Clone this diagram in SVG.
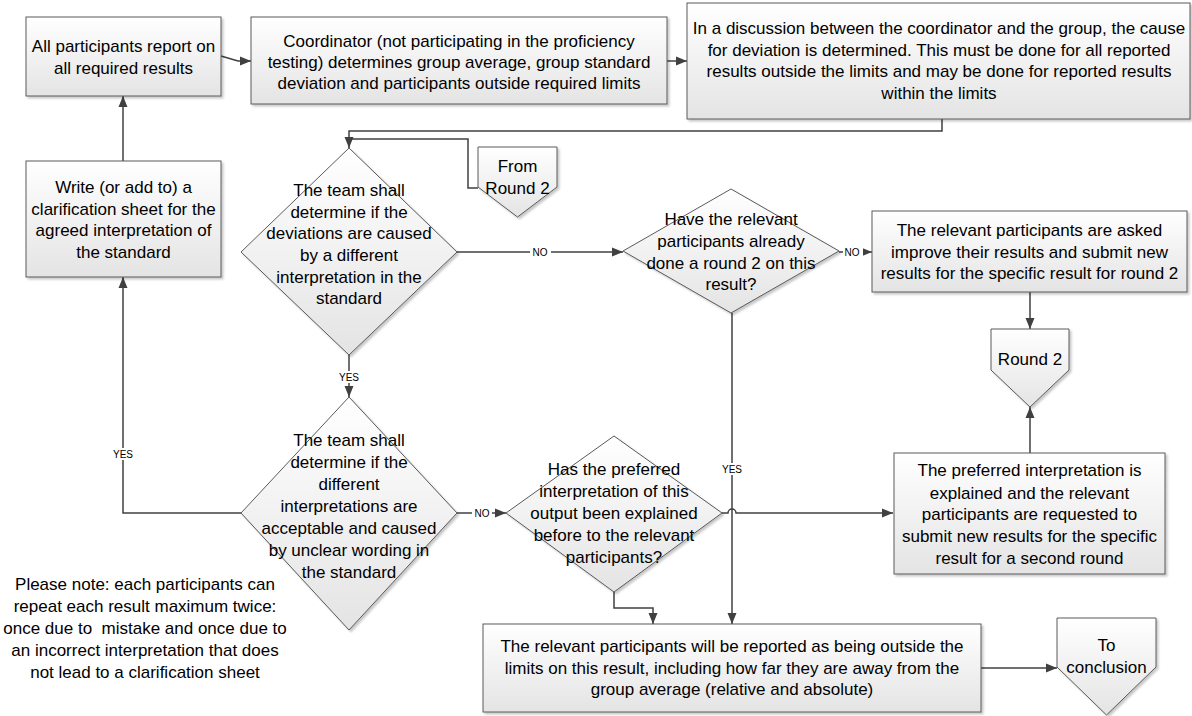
<svg xmlns="http://www.w3.org/2000/svg" width="1192" height="716" viewBox="0 0 1192 716">
<defs>
  <linearGradient id="g" x1="0" y1="0" x2="0" y2="1">
    <stop offset="0" stop-color="#ffffff"/>
    <stop offset="1" stop-color="#e4e4e4"/>
  </linearGradient>
  <filter id="sh" x="-5%" y="-5%" width="115%" height="115%">
    <feDropShadow dx="2" dy="2" stdDeviation="1" flood-color="#000" flood-opacity="0.22"/>
  </filter>
  <marker id="arr" markerUnits="userSpaceOnUse" markerWidth="12" markerHeight="10" refX="11" refY="5" orient="auto">
    <path d="M0,0.5 L11,5 L0,9.5 Z" fill="#404040"/>
  </marker>
</defs>
<style>
  .shape { fill: url(#g); stroke: #5a5a5a; stroke-width: 1; filter: url(#sh); }
  .t { font-family: "Liberation Sans", Arial, sans-serif; font-size: 17px; fill: #000; text-anchor: middle; }
  .lbl { font-family: "Liberation Sans", Arial, sans-serif; font-size: 10px; fill: #000; text-anchor: middle; }
  .c { fill: none; stroke: #404040; stroke-width: 1.5; }
  .ca { fill: none; stroke: #404040; stroke-width: 1.5; marker-end: url(#arr); }
  .lb { fill: #ffffff; }
</style>
<rect width="1192" height="716" fill="#ffffff"/>

<g id="connectors">
  <path class="ca" d="M221,56 L238,61 L251,61"/>
  <path class="ca" d="M667,61 L687,61"/>
  <path class="ca" d="M942,119 L942,131 L349,131 L349,148"/>
  <path class="c" d="M478,188 L468,188 L468,139 L351,139"/>
  <path class="ca" d="M123,161 L123,96"/>
  <path class="ca" d="M241,513 L123,513 L123,277"/>
  <path class="ca" d="M349,355 L349,397"/>
  <path class="ca" d="M457,252 L623,252"/>
  <path class="ca" d="M839,252 L872,252"/>
  <path class="ca" d="M732,313 L732,624"/>
  <path class="ca" d="M457,513 L506,513"/>
  <path class="ca" d="M722,513 L728,513 A4,4 0 0 1 736,513 L893,513"/>
  <path class="ca" d="M614,592 L614,608 L653,608 L653,624"/>
  <path class="ca" d="M1030,292 L1030,329"/>
  <path class="ca" d="M1030,453 L1030,407"/>
  <path class="ca" d="M981,668 L1057,668"/>
  <rect class="lb" x="530" y="246" width="21" height="12"/>
  <text class="lbl" x="540" y="256">NO</text>
  <rect class="lb" x="843" y="246" width="20" height="12"/>
  <text class="lbl" x="852" y="256">NO</text>
  <rect class="lb" x="472" y="507" width="20" height="12"/>
  <text class="lbl" x="482" y="517">NO</text>
  <rect class="lb" x="337" y="371" width="24" height="12"/>
  <text class="lbl" x="349" y="381">YES</text>
  <rect class="lb" x="111" y="448" width="24" height="12"/>
  <text class="lbl" x="123" y="458">YES</text>
  <rect class="lb" x="720" y="463" width="24" height="12"/>
  <text class="lbl" x="732" y="473">YES</text>
</g>

<g id="n-report">
  <rect class="shape" x="26" y="17" width="195" height="79"/>
  <text class="t" x="123.5" y="52">All participants report on</text>
  <text class="t" x="123.5" y="74">all required results</text>
</g>

<g id="n-coordinator">
  <rect class="shape" x="251" y="17" width="416" height="87"/>
  <text class="t" x="459" y="47">Coordinator (not participating in the proficiency</text>
  <text class="t" x="459" y="68">testing) determines group average, group standard</text>
  <text class="t" x="459" y="89">deviation and participants outside required limits</text>
</g>

<g id="n-discussion">
  <rect class="shape" x="687" y="3" width="503" height="116"/>
  <text class="t" x="939" y="34">In a discussion between the coordinator and the group, the cause</text>
  <text class="t" x="939" y="55.5">for deviation is determined. This must be done for all reported</text>
  <text class="t" x="939" y="77">results outside the limits and may be done for reported results</text>
  <text class="t" x="939" y="99">within the limits</text>
</g>

<g id="n-clarification">
  <rect class="shape" x="26" y="161" width="195" height="116"/>
  <text class="t" x="123.5" y="193">Write (or add to) a</text>
  <text class="t" x="123.5" y="214.5">clarification sheet for the</text>
  <text class="t" x="123.5" y="236">agreed interpretation of</text>
  <text class="t" x="123.5" y="258">the standard</text>
</g>

<g id="n-from-round2">
  <polygon class="shape" points="478,147 557,147 557,187 517.5,217 478,187"/>
  <text class="t" x="517.5" y="172">From</text>
  <text class="t" x="517.5" y="194">Round 2</text>
</g>

<g id="n-decision-deviation">
  <polygon class="shape" points="349,148 457,252 349,355 241,252"/>
  <text class="t" x="349" y="196">The team shall</text>
  <text class="t" x="349" y="218">determine if the</text>
  <text class="t" x="349" y="239">deviations are caused</text>
  <text class="t" x="349" y="261">by a different</text>
  <text class="t" x="349" y="283">interpretation in the</text>
  <text class="t" x="349" y="304">standard</text>
</g>

<g id="n-decision-round2">
  <polygon class="shape" points="731,189 839,251 731,313 623,251"/>
  <text class="t" x="731" y="225">Have the relevant</text>
  <text class="t" x="731" y="247">participants already</text>
  <text class="t" x="731" y="269">done a round 2 on this</text>
  <text class="t" x="731" y="290">result?</text>
</g>

<g id="n-asked-improve">
  <rect class="shape" x="872" y="211" width="315" height="81"/>
  <text class="t" x="1029.5" y="236">The relevant participants are asked</text>
  <text class="t" x="1029.5" y="258">improve their results and submit new</text>
  <text class="t" x="1029.5" y="279">results for the specific result for round 2</text>
</g>

<g id="n-round2">
  <polygon class="shape" points="991,329 1069,329 1069,370 1030,407 991,370"/>
  <text class="t" x="1030" y="365">Round 2</text>
</g>

<g id="n-decision-acceptable">
  <polygon class="shape" points="349,397 457,513 349,630 241,513"/>
  <text class="t" x="349" y="446">The team shall</text>
  <text class="t" x="349" y="468">determine if the</text>
  <text class="t" x="349" y="490">different</text>
  <text class="t" x="349" y="512">interpretations are</text>
  <text class="t" x="349" y="534">acceptable and caused</text>
  <text class="t" x="349" y="556">by unclear wording in</text>
  <text class="t" x="349" y="578">the standard</text>
</g>

<g id="n-decision-explained">
  <polygon class="shape" points="614,436 722,513 614,592 506,513"/>
  <text class="t" x="614" y="475">Has the preferred</text>
  <text class="t" x="614" y="497">interpretation of this</text>
  <text class="t" x="614" y="519">output been explained</text>
  <text class="t" x="614" y="541">before to the relevant</text>
  <text class="t" x="614" y="563">participants?</text>
</g>

<g id="n-explain-preferred">
  <rect class="shape" x="894" y="453" width="271" height="121"/>
  <text class="t" x="1029.5" y="476">The preferred interpretation is</text>
  <text class="t" x="1029.5" y="499">explained and the relevant</text>
  <text class="t" x="1029.5" y="520">participants are requested to</text>
  <text class="t" x="1029.5" y="542">submit new results for the specific</text>
  <text class="t" x="1029.5" y="564">result for a second round</text>
</g>

<g id="n-reported-outside">
  <rect class="shape" x="483" y="624" width="498" height="88"/>
  <text class="t" x="732" y="652">The relevant participants will be reported as being outside the</text>
  <text class="t" x="732" y="674">limits on this result, including how far they are away from the</text>
  <text class="t" x="732" y="695">group average (relative and absolute)</text>
</g>

<g id="n-to-conclusion">
  <polygon class="shape" points="1057,618 1156,618 1156,667 1106.5,715 1057,667"/>
  <text class="t" x="1106.5" y="651">To</text>
  <text class="t" x="1106.5" y="673">conclusion</text>
</g>

<g id="note">
  <text class="t" x="145" y="590">Please note: each participants can</text>
  <text class="t" x="145" y="612">repeat each result maximum twice:</text>
  <text class="t" x="145" y="634" xml:space="preserve">once due to  mistake and once due to</text>
  <text class="t" x="145" y="656">an incorrect interpretation that does</text>
  <text class="t" x="145" y="678">not lead to a clarification sheet</text>
</g>
</svg>
